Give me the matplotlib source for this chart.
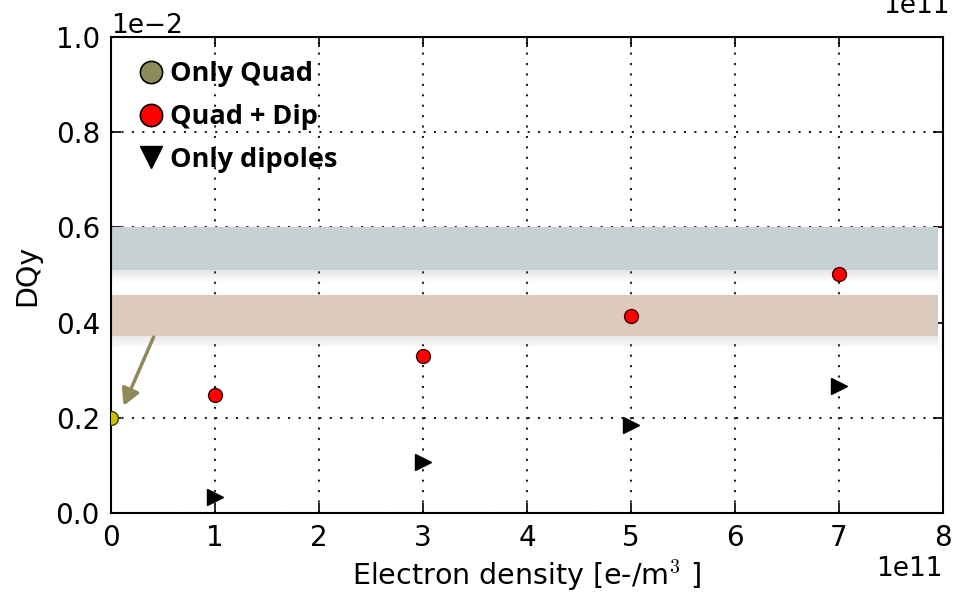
import numpy as np
import matplotlib
matplotlib.use("Agg")
import matplotlib.pyplot as plt
from matplotlib.lines import Line2D
from matplotlib.ticker import ScalarFormatter

plt.rcParams['font.family'] = ['DejaVu Sans']
plt.rcParams['mathtext.fontset'] = 'cm'

# electron density [1e11 e-/m^3] and tune shift DQy [1e-2]
quad_x = [0.0]
quad_y = [0.20]
quad_dip_x = [1, 3, 5, 7]
quad_dip_y = [0.248, 0.330, 0.414, 0.502]
dip_x = [1, 3, 5, 7]
dip_y = [0.034, 0.107, 0.185, 0.267]

# horizontal reference bands (lower, upper) in 1e-2
band_blue = (0.51, 0.60)
band_brown = (0.372, 0.458)
band_end = 7.95

xs = 1e11
ys = 1e-2

fig = plt.figure(figsize=(9.67, 5.98), dpi=100)
ax = fig.add_axes([0.1148, 0.142, 0.8604, 0.796])


def band(lo, hi, color):
    ax.fill_between([0, band_end * xs], lo * ys, hi * ys, color=color, lw=0, zorder=1)
    # soft shadow under the band
    for k in range(8):
        d = 0.003 * (k + 1)
        ax.fill_between([0, band_end * xs], (lo - d) * ys, lo * ys,
                        color='grey', alpha=0.025, lw=0, zorder=0.9)


band(*band_blue, '#c5d1d3')
band(*band_brown, '#dccabd')

ax.plot(np.array(quad_dip_x) * xs, np.array(quad_dip_y) * ys, 'o', ms=10,
        mfc='#ff0000', mec='#400000', mew=1, zorder=4)
ax.plot(np.array(dip_x) * xs, np.array(dip_y) * ys, '>', ms=11,
        mfc='black', mec='black', zorder=4)
ax.plot(np.array(quad_x) * xs, np.array(quad_y) * ys, 'o', ms=10,
        mfc='#c8c000', mec='#404000', mew=1, zorder=4)

ax.annotate('', xy=(0.11 * xs, 0.22 * ys), xytext=(0.42 * xs, 0.375 * ys),
            arrowprops=dict(arrowstyle='-|>,head_length=1.0,head_width=0.55',
                            color='#8f8a5a', lw=2.5), zorder=5)

ax.set_xlim(0, 8 * xs)
ax.set_ylim(0, 1.0 * ys)
ax.set_xticks(np.arange(0, 9) * xs)
ax.set_yticks(np.arange(0, 1.01, 0.2) * ys)

for axis in (ax.xaxis, ax.yaxis):
    fmt = ScalarFormatter(useMathText=False)
    fmt.set_powerlimits((-1, 1))
    axis.set_major_formatter(fmt)

ax.grid(True, ls=(0, (1, 4)), color='#222222', lw=1.5)
ax.set_axisbelow(True)
ax.tick_params(direction='in', length=7, width=1.2, labelsize=20,
               top=True, right=True, pad=8)
ax.xaxis.get_offset_text().set_fontsize(19)
ax.yaxis.get_offset_text().set_fontsize(19)
for s in ax.spines.values():
    s.set_linewidth(1.5)

ax.set_xlabel('Electron density [e-/m$^3$ ]', fontsize=20.5, labelpad=4)
ax.set_ylabel('DQy', fontsize=20.5, labelpad=10)

# clipped duplicate offset label at the top edge
fig.text(0.948, 1.012, '1e11', fontsize=19, ha='center', va='top')

handles = [
    Line2D([], [], ls='none', marker='o', ms=16, mfc='#8f8a5a', mec='black', mew=1.2),
    Line2D([], [], ls='none', marker='o', ms=16, mfc='#ff0000', mec='black', mew=1.2),
    Line2D([], [], ls='none', marker='v', ms=16, mfc='black', mec='black'),
]
labels = ['Only Quad', 'Quad + Dip', 'Only dipoles']
ax.legend(handles, labels, loc='upper left', bbox_to_anchor=(0.0186, 0.972),
          frameon=False, handlelength=1.0, handletextpad=0.2, labelspacing=0.62,
          borderaxespad=0, prop={'family': 'Open Sans', 'weight': 'bold', 'size': 19.5})

fig.savefig('out.png', dpi=100)
